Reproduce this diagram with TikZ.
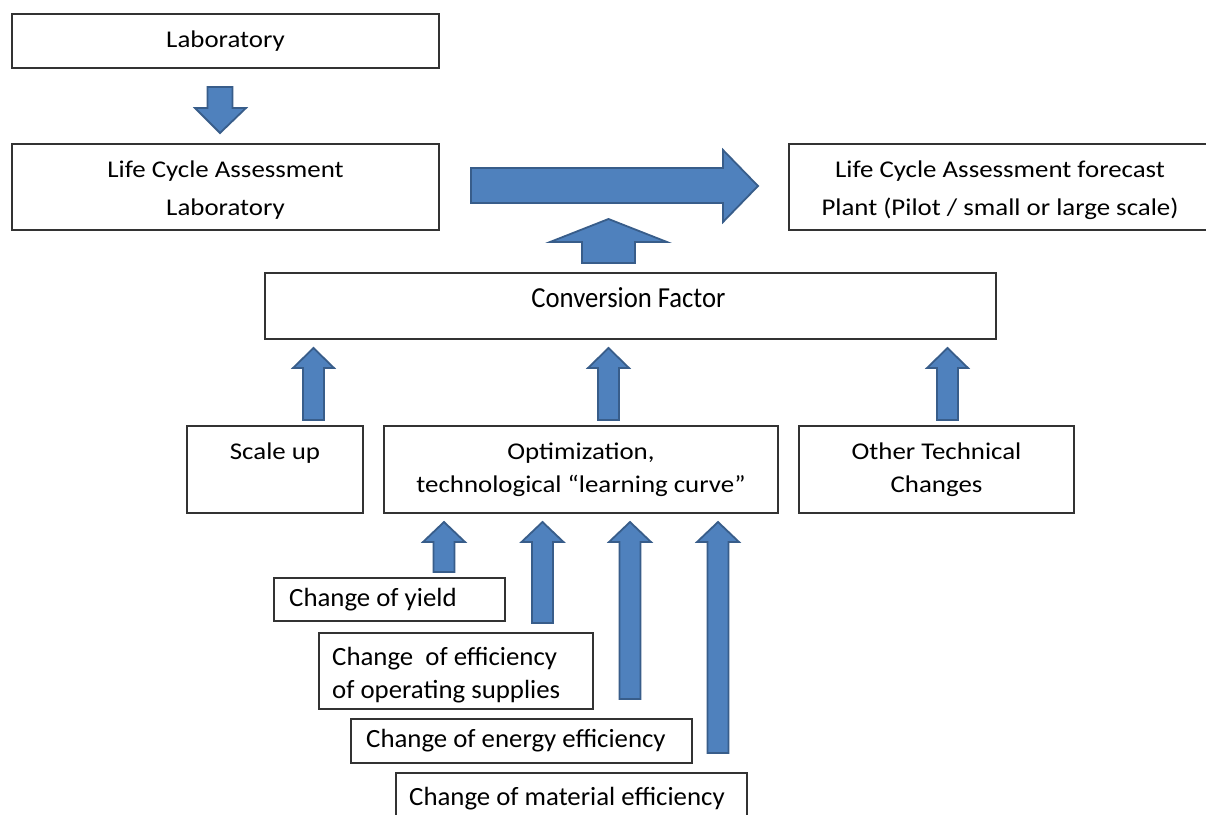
\documentclass[tikz,border=0pt]{standalone}
\usepackage{fontspec}
\setmainfont{Carlito}[FakeStretch=1.12]
\newfontfamily\lowfont{Carlito}[FakeStretch=1.02]
\newfontfamily\convfont{Carlito}[FakeStretch=0.92]
\definecolor{arrfill}{HTML}{4F81BD}
\definecolor{arrline}{HTML}{385D8A}
\definecolor{boxline}{HTML}{333333}
\newcommand\boxnode[5]{\node[boxstyle, minimum width={#4-#2}, minimum height={#5-#3}] (#1) at ({(#2+#4)/2},{(#3+#5)/2}) {};}
\newcommand\blockup[7]{% name, cx, bottom, tip, headbase, shaft half, head half
  \coordinate (#1) at (#2,#3);
  \draw[blockarrow] (#2-#6,#3) -- (#2-#6,#5) -- (#2-#7,#5) -- (#2,#4) -- (#2+#7,#5) -- (#2+#6,#5) -- (#2+#6,#3) -- cycle;}
\begin{document}
\begin{tikzpicture}[x=1pt,y=-1pt,
  boxstyle/.style={draw=boxline, line width=1.8pt, fill=white, rectangle, inner sep=0pt},
  blockarrow/.style={draw=arrline, line width=1.8pt, fill=arrfill, line join=miter},
  txt/.style={inner sep=0pt, anchor=base, font=\fontsize{24}{28}\selectfont},
  lowtxt/.style={inner sep=0pt, anchor=base west, font=\lowfont\fontsize{26.3}{30}\selectfont},
  convtxt/.style={inner sep=0pt, anchor=base, font=\convfont\fontsize{29}{33}\selectfont}]
\fill[white] (0,0) rectangle (1206,814);
\useasboundingbox (0,0) rectangle (1206,814);
% boxes
\boxnode{lab}{12}{14}{439}{68}
\boxnode{lcalab}{12}{144}{439}{230}
\boxnode{lcafc}{789}{144}{1212}{230}
\boxnode{conv}{265}{273}{996}{339}
\boxnode{scale}{187}{426}{363}{513}
\boxnode{optim}{384}{426}{778}{513}
\boxnode{other}{799}{426}{1074}{513}
\boxnode{yield}{274}{578}{505}{621}
\boxnode{eff}{319}{633}{593}{709}
\boxnode{energy}{351}{719}{692}{763}
\boxnode{material}{396}{773}{747}{830}
% texts
\node[txt] (t-lab) at (225.5,47) {Laboratory};
\node[txt] (t-lcalab1) at (225.5,177) {Life Cycle Assessment};
\node[txt] (t-lcalab2) at (225.5,215) {Laboratory};
\node[txt] (t-lcafc1) at (1000,177) {Life Cycle Assessment forecast};
\node[txt] (t-lcafc2) at (1000,215) {Plant (Pilot / small or large scale)};
\node[convtxt] (t-conv) at (628.5,307) {Conversion Factor};
\node[txt] (t-scale) at (275,459) {Scale up};
\node[txt] (t-optim1) at (581,459) {Optimization,};
\node[txt] (t-optim2) at (581,492) {technological “learning curve”};
\node[txt] (t-other1) at (936.5,459) {Other Technical};
\node[txt] (t-other2) at (936.5,492) {Changes};
\node[lowtxt] (t-yield) at (289,606) {Change of yield};
\node[lowtxt] (t-eff1) at (332,665) {Change\ \ of efficiency};
\node[lowtxt] (t-eff2) at (332,698) {of operating supplies};
\node[lowtxt] (t-energy) at (366,747) {Change of energy efficiency};
\node[lowtxt] (t-material) at (409,805) {Change of material efficiency};
% block arrows
\coordinate (a-down) at (220,87);
\draw[blockarrow] (207.5,87) -- (207.5,108) -- (195,108) -- (220,133) -- (246,108) -- (232.5,108) -- (232.5,87) -- cycle;
\coordinate (a-right) at (471,185.5);
\draw[blockarrow] (471,168) -- (723,168) -- (723,150) -- (758,186) -- (723,222) -- (723,203) -- (471,203) -- cycle;
\blockup{a-fc}{608.5}{263}{219}{242}{26.5}{58.5}
\blockup{a-scale}{313.5}{420}{348}{368}{10.5}{20.5}
\blockup{a-optim}{608.5}{420}{348}{368}{10.5}{20.5}
\blockup{a-other}{947.5}{420}{348}{368}{10.5}{20.5}
\blockup{a-yield}{444}{572}{522}{542}{10.5}{21}
\blockup{a-eff}{542.5}{623}{522}{542}{10.5}{21}
\blockup{a-energy}{630}{699}{522}{542}{10.5}{21}
\blockup{a-material}{718}{753}{522}{542}{10.5}{21}
\end{tikzpicture}
\end{document}
